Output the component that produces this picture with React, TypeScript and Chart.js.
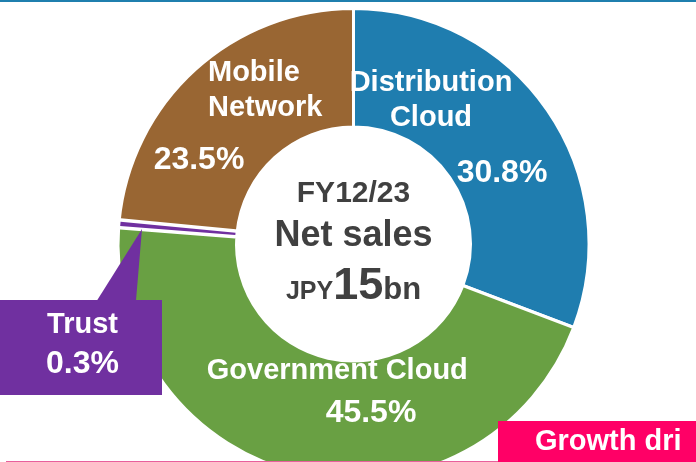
import React, { useEffect, useRef } from "react";
import { Chart, registerables } from "chart.js";

Chart.register(...registerables);

const categories = ["Distribution Cloud", "Government Cloud", "Trust", "Mobile Network"];
const shares = [30.8, 45.5, 0.3, 23.5];
const colors = ["#1f7daf", "#69a043", "#7030a0", "#996633"];
const centerTitle = "FY12/23";
const centerSub = "Net sales";
const centerUnit = "JPY";
const centerValue = "15";
const centerSuffix = "bn";
const bannerText = "Growth dri";

const FONT = '"Liberation Sans", Arial, sans-serif';
const TRUST_INDEX = 2;

// label layout relative to doughnut centre (dx, dy = baseline)
const labelLayout = [
  { lines: ["Distribution", "Cloud"], dx: 77.5, dys: [-152.8, -118.5], align: "center" },
  { lines: ["Government Cloud"], dx: -16.2, dys: [134.8], align: "center" },
  null,
  { lines: ["Mobile", "Network"], dx: -145.5, dys: [-163.5, -128.5], align: "left" },
];
const pctLayout = [
  { dx: 148.5, dy: -61.8 },
  { dx: 17.5, dy: 178.2 },
  null,
  { dx: -154.5, dy: -75.5 },
];

const overlay = {
  id: "overlay",
  afterDatasetsDraw(chart: any) {
    // emphasise the very thin Trust slice with wider white gaps
    const ctx = chart.ctx as CanvasRenderingContext2D;
    const el = chart.getDatasetMeta(0).data[TRUST_INDEX];
    const p = el.getProps(["x", "y", "startAngle", "endAngle", "innerRadius", "outerRadius"], true);
    ctx.save();
    ctx.beginPath();
    ctx.arc(p.x, p.y, p.outerRadius - 1.5, p.startAngle, p.endAngle);
    ctx.arc(p.x, p.y, p.innerRadius + 1.5, p.endAngle, p.startAngle, true);
    ctx.closePath();
    ctx.lineJoin = "bevel";
    ctx.strokeStyle = "#ffffff";
    ctx.lineWidth = 7;
    ctx.stroke();
    ctx.fillStyle = colors[TRUST_INDEX];
    ctx.fill();
    ctx.restore();
  },
  afterDraw(chart: any) {
    const ctx = chart.ctx as CanvasRenderingContext2D;
    const meta = chart.getDatasetMeta(0);
    const arc0 = meta.data[0];
    const cx = arc0.x;
    const cy = arc0.y;
    ctx.save();
    ctx.textBaseline = "alphabetic";
    ctx.fillStyle = "#ffffff";
    // segment labels
    labelLayout.forEach((l, i) => {
      if (!l) return;
      ctx.font = `bold 29px ${FONT}`;
      ctx.textAlign = l.align as CanvasTextAlign;
      l.lines.forEach((t, j) => ctx.fillText(t, cx + l.dx, cy + l.dys[j]));
      const pp = pctLayout[i]!;
      ctx.font = `bold 32px ${FONT}`;
      ctx.textAlign = "center";
      ctx.fillText(shares[i].toFixed(1) + "%", cx + pp.dx, cy + pp.dy);
    });

    // centre text
    ctx.fillStyle = "#404040";
    ctx.textAlign = "center";
    ctx.font = `bold 30px ${FONT}`;
    ctx.fillText(centerTitle, cx, cy - 41.8);
    ctx.font = `bold 36px ${FONT}`;
    ctx.fillText(centerSub, cx, cy + 1.5);
    const f1 = `bold 25px ${FONT}`;
    const f2 = `bold 45px ${FONT}`;
    const f3 = `bold 31px ${FONT}`;
    ctx.font = f1; const w1 = ctx.measureText(centerUnit).width;
    ctx.font = f2; const w2 = ctx.measureText(centerValue).width;
    ctx.font = f3; const w3 = ctx.measureText(centerSuffix).width;
    let x = cx - (w1 + w2 + w3) / 2;
    const by = cy + 54.5;
    ctx.textAlign = "left";
    ctx.font = f1; ctx.fillText(centerUnit, x, by); x += w1;
    ctx.font = f2; ctx.fillText(centerValue, x, by); x += w2;
    ctx.font = f3; ctx.fillText(centerSuffix, x, by);

    // Trust callout
    ctx.fillStyle = colors[TRUST_INDEX];
    ctx.beginPath();
    ctx.moveTo(97, 300.5);
    ctx.lineTo(142, 229);
    ctx.lineTo(136, 300.5);
    ctx.closePath();
    ctx.fill();
    ctx.fillRect(0, 300, 162, 95);
    ctx.fillStyle = "#ffffff";
    ctx.textAlign = "center";
    ctx.font = `bold 29px ${FONT}`;
    ctx.fillText(categories[TRUST_INDEX], 82.5, 333);
    ctx.font = `bold 32px ${FONT}`;
    ctx.fillText(shares[TRUST_INDEX].toFixed(1) + "%", 82.5, 373);

    // top rule
    ctx.fillStyle = "#1f7fae";
    ctx.fillRect(0, 0, chart.width, 2);
    // bottom rule
    ctx.fillStyle = "#e8609c";
    ctx.fillRect(6, 461, chart.width - 6, 1);
    // banner
    ctx.fillStyle = "#ff0066";
    ctx.fillRect(498, 421, chart.width - 498, 41);
    ctx.fillStyle = "#ffffff";
    ctx.textAlign = "left";
    ctx.font = `bold 29px ${FONT}`;
    ctx.fillText(bannerText, 535, 450);
    ctx.restore();
  },
};

export default function App() {
  const ref = useRef<HTMLCanvasElement | null>(null);
  useEffect(() => {
    if (!ref.current) return;
    const chart = new Chart(ref.current, {
      type: "doughnut",
      data: {
        labels: categories,
        datasets: [
          {
            data: shares,
            backgroundColor: colors,
            borderColor: "#ffffff",
            borderWidth: 3,
          },
        ],
      },
      options: {
        responsive: false,
        animation: false,
        devicePixelRatio: 1,
        cutout: 117,
        layout: { padding: { left: 116.5, right: 105.5, top: 7, bottom: 9 } },
        plugins: { legend: { display: false }, tooltip: { enabled: false } },
      } as any,
      plugins: [overlay],
    });
    return () => chart.destroy();
  }, []);
  return (
    <div
      style={{
        position: "fixed",
        left: 0,
        top: 0,
        width: 696,
        height: 462,
        overflow: "hidden",
        background: "#ffffff",
      }}
    >
      <canvas ref={ref} width={696} height={490} style={{ display: "block" }} />
    </div>
  );
}
